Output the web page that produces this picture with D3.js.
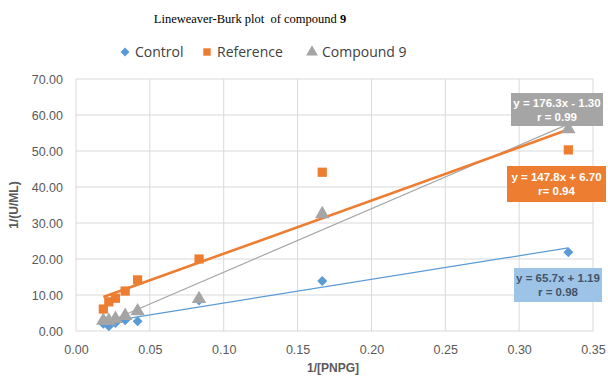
<!DOCTYPE html>
<html>
<head>
<meta charset="utf-8">
<script src="https://cdn.jsdelivr.net/npm/d3@7"></script>
<style>
  body { margin: 0; background: #fff; }
  svg text { font-family: "Liberation Sans", Arial, sans-serif; }
</style>
</head>
<body>
<div class="chart"></div>
<script>
// 1/[PNPG] values
var xs = [0.0185, 0.0222, 0.0267, 0.0333, 0.0417, 0.0833, 0.1667, 0.3333];
var control = [2.0, 1.3, 2.2, 3.0, 2.7, 8.5, 13.9, 21.9];
var reference = [6.1, 8.1, 9.1, 11.1, 14.2, 20.0, 44.1, 50.3];
var compound9 = [2.9, 2.8, 3.4, 4.2, 5.5, 8.9, 32.5, 56.1];

var seriesNames = ["Control", "Reference", "Compound 9"];
var slopes = [65.7, 147.8, 176.3];
var intercepts = [1.19, 6.70, -1.30];
var eqLabels = [
  ["y = 65.7x + 1.19", "r = 0.98"],
  ["y = 147.8x + 6.70", "r= 0.94"],
  ["y = 176.3x - 1.30", "r = 0.99"]
];
var xTicks = [0, 0.05, 0.10, 0.15, 0.20, 0.25, 0.30, 0.35];
var yTicks = [0, 10, 20, 30, 40, 50, 60, 70];

var w = 608, h = 378;
var colors = ["#5b9bd5", "#ed7d31", "#a5a5a5"];
var symbols = [d3.symbolSquare, d3.symbolSquare, d3.symbolTriangle];
var rotations = [45, 0, 0];

var svg = d3.select(".chart").append("svg")
    .attr("width", w)
    .attr("height", h);

var x = d3.scaleLinear().domain([0, 0.35]).range([76, 593]);
var y = d3.scaleLinear().domain([0, 70]).range([331, 79]);

// title
var title = svg.append("text")
    .attr("x", 250).attr("y", 23)
    .attr("text-anchor", "middle")
    .style("font-family", "'Liberation Serif', 'Times New Roman', serif")
    .style("font-size", "12.5px")
    .style("white-space", "pre")
    .attr("fill", "#000");
title.append("tspan").text("Lineweaver-Burk plot  of compound ");
title.append("tspan").style("font-weight", "bold").text("9");

// grid
svg.append("g").selectAll("line").data(yTicks).enter().append("line")
    .attr("x1", x(0)).attr("x2", x(0.35))
    .attr("y1", function(d) { return y(d); })
    .attr("y2", function(d) { return y(d); })
    .attr("stroke", "#d9d9d9").attr("stroke-width", 1);
svg.append("g").selectAll("line").data(xTicks).enter().append("line")
    .attr("x1", function(d) { return x(d); })
    .attr("x2", function(d) { return x(d); })
    .attr("y1", y(0)).attr("y2", y(70))
    .attr("stroke", "#d9d9d9").attr("stroke-width", 1);

// axes (labels only)
var xAxis = svg.append("g")
    .attr("transform", "translate(0," + y(0) + ")")
    .call(d3.axisBottom(x).tickValues(xTicks).tickFormat(d3.format(".2f")).tickSize(0).tickPadding(14));
var yAxis = svg.append("g")
    .attr("transform", "translate(" + x(0) + ",0)")
    .call(d3.axisLeft(y).tickValues(yTicks).tickFormat(d3.format(".2f")).tickSize(0).tickPadding(13));
[xAxis, yAxis].forEach(function(a) {
  a.select(".domain").remove();
  a.selectAll("text")
    .attr("fill", "#595959")
    .style("font-size", "12.5px")
    .style("font-family", "'Liberation Sans', Arial, sans-serif");
});

svg.append("text")
    .attr("x", 333).attr("y", 372)
    .attr("text-anchor", "middle")
    .attr("fill", "#595959")
    .style("font-size", "12px")
    .style("font-weight", "bold")
    .text("1/[PNPG]");

svg.append("text")
    .attr("transform", "translate(18," + 205 + ") rotate(-90)")
    .attr("text-anchor", "middle")
    .attr("fill", "#595959")
    .style("font-size", "12px")
    .style("font-weight", "bold")
    .text("1/(U/ML)");

// trendlines
var allSeries = [control, reference, compound9];
var lineWidths = [1.2, 2.6, 1.2];
var xMin = d3.min(xs), xMax = d3.max(xs);
var line = d3.line().x(function(d) { return x(d[0]); }).y(function(d) { return y(d[1]); });
var order = [0, 2, 1];
order.forEach(function(i) {
  var pts = [xMin, xMax].map(function(v) { return [v, slopes[i] * v + intercepts[i]]; });
  svg.append("path")
      .attr("d", line(pts))
      .attr("fill", "none")
      .attr("stroke", colors[i])
      .attr("stroke-width", lineWidths[i]);
});

// markers
var sizes = [50, 85, 90];
allSeries.forEach(function(vals, i) {
  svg.append("g").selectAll("path").data(vals).enter().append("path")
      .attr("d", d3.symbol().type(symbols[i]).size(sizes[i]))
      .attr("transform", function(d, j) {
        return "translate(" + x(xs[j]) + "," + y(d) + ") rotate(" + rotations[i] + ")";
      })
      .attr("fill", colors[i]);
});

// legend
var legendX = [125, 207, 312];
var legendSizes = [40, 55, 60];
seriesNames.forEach(function(name, i) {
  var g = svg.append("g").attr("transform", "translate(" + legendX[i] + ",52)");
  g.append("path")
      .attr("d", d3.symbol().type(symbols[i]).size(legendSizes[i]))
      .attr("transform", "rotate(" + rotations[i] + ")")
      .attr("fill", colors[i]);
  g.append("text")
      .attr("x", 10).attr("y", 5)
      .attr("fill", "#404040")
      .style("font-size", "14px")
      .style("font-family", "'Open Sans', sans-serif")
      .text(name);
});

// equation boxes
var boxes = [
  { x: 514, y: 268, w: 88, h: 34, fill: "#9dc3e6", text: "#44546a" },
  { x: 507, y: 166, w: 99, h: 36, fill: "#ed7d31", text: "#ffffff" },
  { x: 511, y: 93, w: 92, h: 33, fill: "#a5a5a5", text: "#ffffff" }
];
boxes.forEach(function(b, i) {
  svg.append("rect")
      .attr("x", b.x).attr("y", b.y)
      .attr("width", b.w).attr("height", b.h)
      .attr("fill", b.fill);
  eqLabels[i].forEach(function(t, k) {
    svg.append("text")
        .attr("x", b.x + b.w / 2)
        .attr("y", b.y + b.h / 2 - 3 + k * 14)
        .attr("text-anchor", "middle")
        .attr("fill", b.text)
        .style("font-size", "11.5px")
        .style("font-weight", "bold")
        .text(t);
  });
});
</script>
</body>
</html>
